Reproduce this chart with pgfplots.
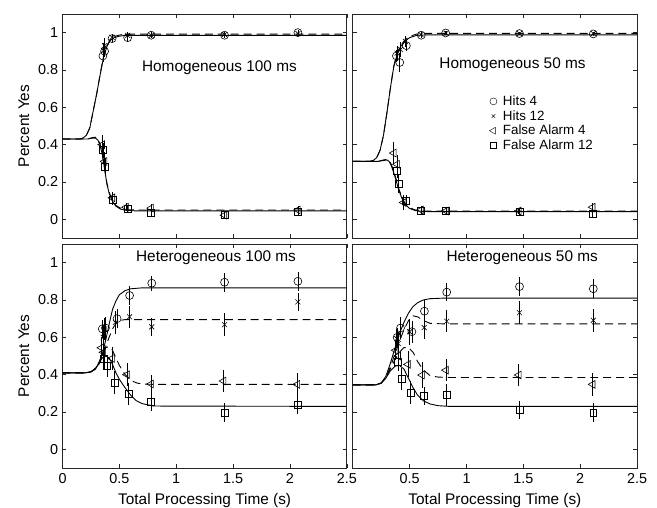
\documentclass[border=0pt]{standalone}
\usepackage{pgfplots}
\pgfplotsset{compat=1.18}
\usepgfplotslibrary{groupplots}
\usepackage{fontspec}
\setmainfont{Liberation Sans}
\begin{document}
\pgfplotsset{
  cv/.style={black, line width=0.9bp, no marks},
  cvd/.style={black, line width=0.9bp, no marks, dash pattern=on 8bp off 5bp},
  pt/.style={black, line width=0.6bp, only marks,
     error bars/y dir=both, error bars/y explicit, error bars/error mark=none,
     error bars/error bar style={line width=0.7bp, black}},
  mH4/.style={mark=o, mark size=4bp},
  mH12/.style={mark=x, mark size=3.5bp},
  mF4/.style={mark=triangle, mark size=4.5bp, mark options={rotate=90}},
  mF12/.style={mark=square, mark size=3.5bp},
}
\begin{tikzpicture}[font=\fontsize{15.5}{18}\selectfont]
\begin{groupplot}[
  group style={group size=2 by 2, horizontal sep=6bp, vertical sep=6bp},
  scale only axis, width=285.5bp, height=225bp,
  xmin=0, xmax=2.5, ymin=-0.1, ymax=1.1,
  ytick={0,0.2,0.4,0.6,0.8,1},
  xtick={0,0.5,1,1.5,2,2.5},
  tick align=inside, major tick length=4bp,
  axis line style={line width=0.7bp, black!85},
  every tick/.style={black!85, line width=0.6bp},
  /pgf/number format/assume math mode=true,
  ticklabel style={font=\fontsize{14.5}{17}\selectfont},
  yticklabel style={/pgf/number format/fixed, xshift=-1bp},
  xticklabel style={/pgf/number format/fixed, yshift=-2bp},
  label style={font=\fontsize{15.5}{18}\selectfont},
  ylabel style={at={(axis description cs:-0.136,0.5)}, anchor=center},
  xlabel style={at={(axis description cs:0.5,-0.143)}, anchor=center},
  clip=true,
]
%================ Top-left: Homogeneous 100 ms
\nextgroupplot[ylabel={Percent Yes}, xticklabels={}]
\addplot[cv] coordinates {(0,0.43)(0.15,0.43)(0.18,0.435)(0.21,0.45)(0.24,0.49)(0.27,0.58)(0.30,0.67)(0.33,0.77)(0.36,0.865)(0.39,0.925)(0.42,0.958)(0.45,0.972)(0.50,0.981)(0.55,0.985)(0.6,0.985)(2.5,0.985)};
\addplot[cvd] coordinates {(0,0.43)(0.15,0.43)(0.18,0.435)(0.21,0.45)(0.24,0.49)(0.27,0.58)(0.30,0.67)(0.33,0.775)(0.36,0.87)(0.39,0.93)(0.42,0.962)(0.45,0.978)(0.50,0.987)(0.55,0.991)(0.6,0.992)(2.5,0.992)};
\addplot[cv] coordinates {(0,0.43)(0.22,0.43)(0.26,0.435)(0.29,0.435)(0.31,0.425)(0.33,0.40)(0.35,0.345)(0.37,0.27)(0.39,0.19)(0.41,0.14)(0.44,0.095)(0.47,0.07)(0.51,0.055)(0.56,0.048)(0.65,0.045)(2.5,0.045)};
\addplot[cvd] coordinates {(0,0.43)(0.22,0.43)(0.26,0.437)(0.29,0.44)(0.31,0.43)(0.33,0.405)(0.35,0.35)(0.37,0.275)(0.39,0.195)(0.41,0.145)(0.44,0.1)(0.47,0.074)(0.51,0.06)(0.56,0.052)(0.65,0.05)(2.5,0.05)};
\addplot[pt, mH4] table[y error index=2] {
0.355 0.875 0.03
0.37 0.90 0.03
0.436 0.968 0.02
0.573 0.973 0.02
0.78 0.986 0.015
1.425 0.986 0.015
2.07 1.0 0.015
};
\addplot[pt, mH12] table[y error index=2] {
0.36 0.905 0.04
0.37 0.93 0.04
0.436 0.975 0.02
0.573 0.985 0.02
0.78 0.985 0.015
1.425 0.99 0.015
2.07 0.995 0.015
};
\addplot[pt, mF4] table[y error index=2] {
0.35 0.40 0.05
0.37 0.31 0.05
0.44 0.115 0.03
0.56 0.065 0.02
0.78 0.06 0.02
1.425 0.022 0.015
2.07 0.05 0.02
};
\addplot[pt, mF12] table[y error index=2] {
0.355 0.37 0.04
0.375 0.28 0.05
0.44 0.105 0.03
0.57 0.055 0.02
0.78 0.036 0.02
1.425 0.025 0.015
2.07 0.04 0.02
};
\node at (axis cs:1.38,0.814) {Homogeneous 100 ms};
%================ Top-right: Homogeneous 50 ms
\nextgroupplot[xticklabels={}, yticklabels={},
  legend style={at={(axis cs:1.20,0.668)}, anchor=north west, draw=none, fill=none,
    font=\fontsize{13.5}{15}\selectfont, row sep=1.5bp, inner sep=0pt,
    nodes={inner sep=1bp},
    /tikz/every odd column/.style={column sep=5bp}},
  legend cell align=left]
\addlegendimage{only marks, black, mark=o, mark size=3.5bp}
\addlegendentry{Hits 4}
\addlegendimage{only marks, black, mark=x, mark size=2.5bp}
\addlegendentry{Hits 12}
\addlegendimage{only marks, black, mark=triangle, mark size=4bp, mark options={rotate=90}}
\addlegendentry{False Alarm 4}
\addlegendimage{only marks, black, mark=square, mark size=3bp}
\addlegendentry{False Alarm 12}
\addplot[cv, forget plot] coordinates {(0,0.31)(0.15,0.31)(0.18,0.315)(0.21,0.33)(0.24,0.37)(0.27,0.45)(0.30,0.57)(0.33,0.70)(0.36,0.815)(0.39,0.885)(0.42,0.925)(0.46,0.955)(0.50,0.973)(0.56,0.985)(0.65,0.988)(2.5,0.988)};
\addplot[cvd, forget plot] coordinates {(0,0.31)(0.15,0.31)(0.18,0.315)(0.21,0.33)(0.24,0.37)(0.27,0.45)(0.30,0.57)(0.33,0.70)(0.36,0.82)(0.39,0.89)(0.42,0.93)(0.46,0.962)(0.50,0.98)(0.56,0.992)(0.65,0.996)(2.5,0.996)};
\addplot[cv, forget plot] coordinates {(0,0.31)(0.22,0.31)(0.27,0.315)(0.30,0.318)(0.32,0.31)(0.34,0.285)(0.36,0.25)(0.38,0.21)(0.40,0.165)(0.43,0.115)(0.46,0.08)(0.50,0.058)(0.55,0.047)(0.62,0.042)(0.7,0.041)(2.5,0.041)};
\addplot[cvd, forget plot] coordinates {(0,0.31)(0.22,0.31)(0.27,0.318)(0.30,0.322)(0.32,0.315)(0.34,0.292)(0.36,0.258)(0.38,0.218)(0.40,0.172)(0.43,0.12)(0.46,0.085)(0.50,0.062)(0.55,0.05)(0.62,0.045)(0.7,0.044)(2.5,0.044)};
\addplot[pt, mH4, forget plot] table[y error index=2] {
0.384 0.875 0.03
0.413 0.84 0.05
0.471 0.93 0.03
0.602 0.986 0.015
0.817 0.998 0.01
1.466 0.995 0.01
2.115 0.993 0.01
};
\addplot[pt, mH12, forget plot] table[y error index=2] {
0.39 0.89 0.04
0.419 0.91 0.04
0.462 0.953 0.03
0.60 0.99 0.015
0.82 0.997 0.01
1.466 0.995 0.01
2.115 0.995 0.01
};
\addplot[pt, mF4, forget plot] table[y error index=2] {
0.361 0.355 0.06
0.39 0.295 0.05
0.448 0.09 0.04
0.60 0.05 0.02
0.82 0.045 0.02
1.46 0.045 0.015
2.11 0.065 0.02
};
\addplot[pt, mF12, forget plot] table[y error index=2] {
0.39 0.26 0.04
0.404 0.19 0.05
0.47 0.10 0.03
0.60 0.045 0.02
0.82 0.045 0.02
1.466 0.04 0.015
2.11 0.03 0.02
};
\node at (axis cs:1.405,0.83) {Homogeneous 50 ms};
%================ Bottom-left: Heterogeneous 100 ms
\nextgroupplot[ylabel={Percent Yes}, xlabel={Total Processing Time (s)},
  xticklabels={0,0.5,1,1.5,2,2.5}]
\addplot[cv] coordinates {(0,0.41)(0.2,0.41)(0.25,0.415)(0.29,0.43)(0.32,0.46)(0.35,0.51)(0.38,0.585)(0.41,0.67)(0.44,0.75)(0.47,0.795)(0.50,0.828)(0.55,0.85)(0.60,0.86)(0.7,0.865)(2.5,0.865)};
\addplot[cvd] coordinates {(0,0.41)(0.2,0.41)(0.25,0.415)(0.29,0.43)(0.32,0.455)(0.35,0.50)(0.38,0.55)(0.41,0.60)(0.44,0.645)(0.47,0.675)(0.50,0.69)(0.55,0.695)(0.6,0.695)(2.5,0.695)};
\addplot[cvd] coordinates {(0,0.41)(0.2,0.41)(0.25,0.415)(0.29,0.435)(0.32,0.465)(0.35,0.51)(0.38,0.545)(0.41,0.55)(0.44,0.53)(0.47,0.49)(0.50,0.45)(0.55,0.40)(0.60,0.37)(0.65,0.356)(0.7,0.35)(0.8,0.348)(2.5,0.348)};
\addplot[cv] coordinates {(0,0.41)(0.2,0.41)(0.25,0.415)(0.29,0.435)(0.32,0.46)(0.35,0.49)(0.38,0.50)(0.41,0.49)(0.44,0.455)(0.47,0.41)(0.50,0.375)(0.55,0.33)(0.60,0.29)(0.65,0.26)(0.7,0.245)(0.8,0.232)(2.5,0.23)};
\addplot[pt, mH4] table[y error index=2] {
0.35 0.645 0.05
0.378 0.65 0.06
0.48 0.70 0.05
0.59 0.824 0.05
0.785 0.89 0.04
1.425 0.895 0.05
2.07 0.90 0.05
};
\addplot[pt, mH12] table[y error index=2] {
0.358 0.60 0.06
0.37 0.645 0.06
0.465 0.68 0.06
0.59 0.71 0.06
0.785 0.656 0.05
1.425 0.668 0.06
2.07 0.79 0.05
};
\addplot[pt, mF4] table[y error index=2] {
0.343 0.544 0.06
0.36 0.52 0.06
0.436 0.487 0.06
0.567 0.40 0.06
0.78 0.35 0.05
1.417 0.366 0.06
2.065 0.348 0.06
};
\addplot[pt, mF12] table[y error index=2] {
0.364 0.487 0.06
0.393 0.448 0.06
0.457 0.359 0.06
0.582 0.296 0.06
0.78 0.256 0.05
1.425 0.197 0.05
2.065 0.238 0.05
};
\node at (axis cs:1.35,1.025) {Heterogeneous 100 ms};
%================ Bottom-right: Heterogeneous 50 ms
\nextgroupplot[xlabel={Total Processing Time (s)}, yticklabels={},
  xtick={0.5,1,1.5,2,2.5}, xticklabels={0.5,1,1.5,2,2.5}]
\addplot[cv] coordinates {(0,0.345)(0.2,0.345)(0.25,0.355)(0.29,0.39)(0.33,0.46)(0.37,0.54)(0.41,0.62)(0.45,0.68)(0.49,0.73)(0.53,0.765)(0.57,0.785)(0.62,0.80)(0.68,0.807)(0.8,0.81)(2.5,0.81)};
\addplot[cvd] coordinates {(0,0.345)(0.2,0.345)(0.25,0.355)(0.29,0.385)(0.33,0.44)(0.37,0.51)(0.41,0.58)(0.45,0.64)(0.49,0.69)(0.53,0.715)(0.57,0.71)(0.62,0.69)(0.68,0.675)(0.8,0.672)(2.5,0.672)};
\addplot[cvd] coordinates {(0,0.345)(0.2,0.345)(0.25,0.355)(0.29,0.385)(0.33,0.43)(0.37,0.48)(0.41,0.52)(0.45,0.545)(0.49,0.545)(0.53,0.52)(0.57,0.47)(0.62,0.425)(0.68,0.395)(0.75,0.387)(0.85,0.385)(2.5,0.385)};
\addplot[cv] coordinates {(0,0.345)(0.2,0.345)(0.25,0.355)(0.29,0.38)(0.33,0.42)(0.37,0.445)(0.41,0.45)(0.45,0.43)(0.49,0.38)(0.53,0.33)(0.57,0.29)(0.62,0.26)(0.68,0.243)(0.75,0.234)(0.85,0.23)(2.5,0.23)};
\addplot[pt, mH4] table[y error index=2] {
0.39 0.60 0.05
0.42 0.65 0.06
0.52 0.63 0.06
0.63 0.74 0.06
0.826 0.842 0.05
1.466 0.872 0.05
2.115 0.86 0.05
};
\addplot[pt, mH12] table[y error index=2] {
0.387 0.593 0.05
0.40 0.567 0.06
0.50 0.63 0.07
0.628 0.652 0.06
0.826 0.686 0.06
1.466 0.732 0.06
2.115 0.691 0.06
};
\addplot[pt, mF4] table[y error index=2] {
0.378 0.531 0.05
0.40 0.50 0.06
0.486 0.455 0.07
0.61 0.398 0.07
0.82 0.424 0.06
1.46 0.398 0.06
2.11 0.348 0.06
};
\addplot[pt, mF12] table[y error index=2] {
0.40 0.469 0.05
0.428 0.376 0.06
0.506 0.305 0.06
0.628 0.286 0.05
0.826 0.291 0.06
1.466 0.211 0.05
2.115 0.197 0.05
};
\node at (axis cs:1.49,1.025) {Heterogeneous 50 ms};
\end{groupplot}
\pgfresetboundingbox
\path (group c1r1.north west) ++(-60bp,14bp) rectangle ++(657bp,-510bp);
\end{tikzpicture}
\end{document}
